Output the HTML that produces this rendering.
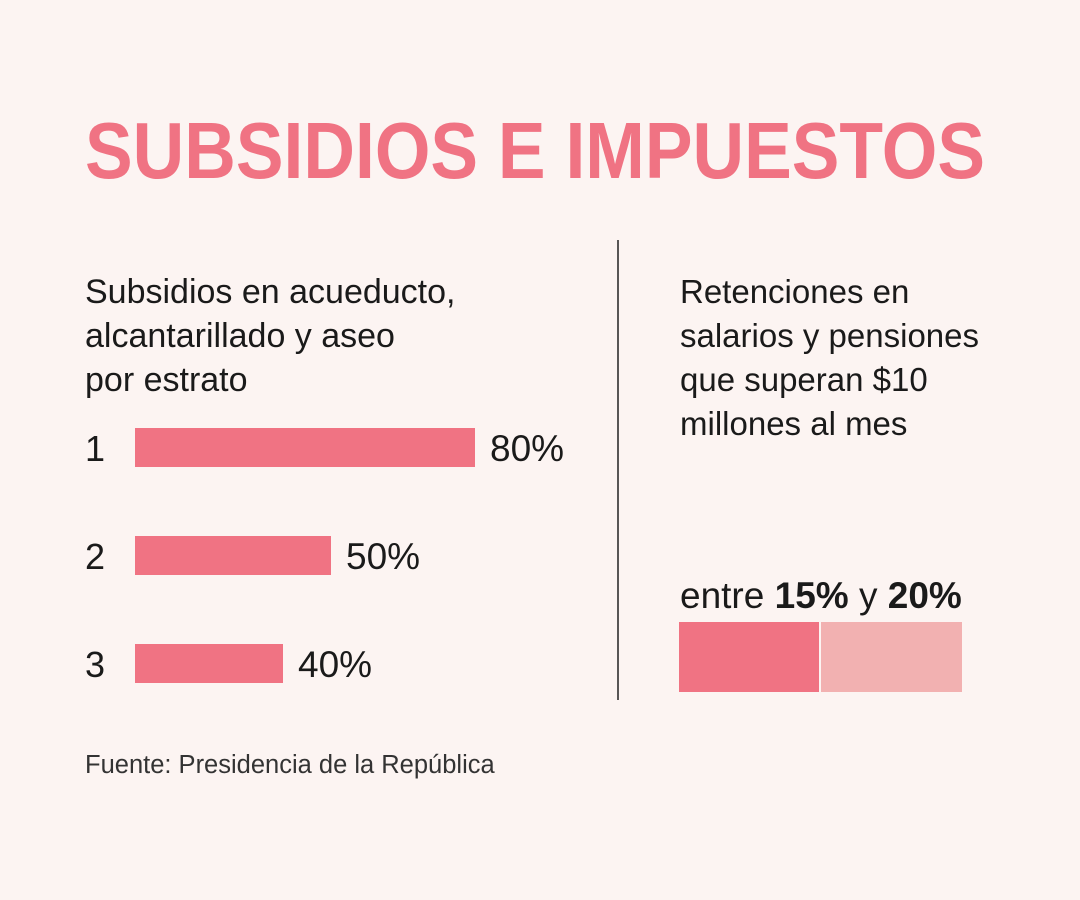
<!DOCTYPE html>
<html><head><meta charset="utf-8"><style>
html,body{margin:0;padding:0;background:#fcf4f2;}
svg{display:block;font-family:"Liberation Sans",sans-serif;}
</style></head><body>
<svg width="1080" height="900" viewBox="0 0 1080 900">
<rect width="1080" height="900" fill="#fcf4f2"/>
<text x="85" y="178" font-size="80" font-weight="bold" fill="#f07383" textLength="900" lengthAdjust="spacingAndGlyphs">SUBSIDIOS E IMPUESTOS</text>
<g fill="#1a1a1a" font-size="34">
<text x="85" y="303">Subsidios en acueducto,</text>
<text x="85" y="347">alcantarillado y aseo</text>
<text x="85" y="391">por estrato</text>
</g>
<g id="bars"></g>
<line x1="618" y1="240" x2="618" y2="700" stroke="#222" stroke-width="1.5"/>
<g fill="#1a1a1a" font-size="33">
<text x="680" y="303">Retenciones en</text>
<text x="680" y="347">salarios y pensiones</text>
<text x="680" y="391">que superan $10</text>
<text x="680" y="435">millones al mes</text>
</g>
<text x="680" y="608" font-size="37" fill="#1a1a1a">entre <tspan font-weight="bold">15%</tspan> y <tspan font-weight="bold">20%</tspan></text>
<rect x="679" y="622" width="140" height="70" fill="#f07383"/>
<rect x="821" y="622" width="141" height="70" fill="#f2b1b1"/>
<text x="85" y="773" font-size="25.5" fill="#333">Fuente: Presidencia de la República</text>
</svg>
<script>
const categories=["1","2","3"];
const values=[80,50,40];
const valueLabels=["80%","50%","40%"];
const ns="http://www.w3.org/2000/svg";
const g=document.getElementById("bars");
const x0=135;
function xw(v){return Math.max(0,4.8*v-44);}
function yr(i){return 428+i*108;}
categories.forEach((c,i)=>{
  const t=document.createElementNS(ns,"text");
  t.setAttribute("x",85);t.setAttribute("y",yr(i)+33);t.setAttribute("font-size","36");t.setAttribute("fill","#1a1a1a");
  t.textContent=c;
  
  
  g.appendChild(t);
  const r=document.createElementNS(ns,"rect");
  r.setAttribute("x",x0);r.setAttribute("y",yr(i));r.setAttribute("width",xw(values[i]));r.setAttribute("height",39);r.setAttribute("fill","#f07383");
  
  
  g.appendChild(r);
  const l=document.createElementNS(ns,"text");
  l.setAttribute("x",x0+xw(values[i])+15);l.setAttribute("y",yr(i)+33);l.setAttribute("font-size","37");l.setAttribute("fill","#1a1a1a");
  l.textContent=valueLabels[i];
  
  
  g.appendChild(l);
});
</script>
</body></html>
